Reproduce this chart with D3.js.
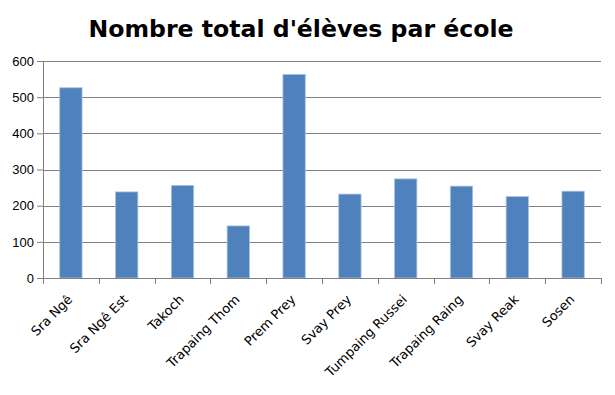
<!DOCTYPE html>
<html>
<head>
  <meta charset="utf-8">
  <title>Nombre total d'élèves par école</title>
  <style>
    body { margin: 0; background: #fff; }
    svg { display: block; font-family: "DejaVu Sans", sans-serif; }
    .grid line { stroke: #808080; stroke-width: 1; }
    .axis path, .axis line { stroke: #808080; }
    .axis text { fill: #000; font-size: 13px; }
  </style>
</head>
<body>
  <svg width="615" height="395"></svg>
  <script src="https://d3js.org/d3.v7.min.js"></script>
  <script>
    // schools and their total pupils
    var schools = ['Sra Ngê', 'Sra Ngê Est', 'Takoch', 'Trapaing Thom', 'Prem Prey',
      'Svay Prey', 'Tumpaing Russei', 'Trapaing Raing', 'Svay Reak', 'Sosen'];
    var pupils = [526, 238, 256, 144, 563, 232, 274, 254, 225, 240];
    var yTicks = [0, 100, 200, 300, 400, 500, 600];

    var svg = d3.select('svg');
    var margin = { top: 61, right: 14, bottom: 117, left: 43 };
    var width = 615 - margin.left - margin.right;
    var height = 395 - margin.top - margin.bottom;

    var x = d3.scaleBand().domain(schools).range([0, width]).paddingInner(0.6).paddingOuter(0.3);
    var xBand = d3.scaleBand().domain(schools).range([0, width]);
    var y = d3.scaleLinear().domain([0, 600]).range([height, 0]);

    svg.append('text')
      .attr('x', 301).attr('y', 36.5)
      .attr('text-anchor', 'middle')
      .style('font-size', '23.6px').style('font-weight', 'bold')
      .text("Nombre total d'élèves par école");

    var g = svg.append('g').attr('transform', 'translate(' + margin.left + ',' + margin.top + ')');

    // horizontal gridlines
    g.append('g').attr('class', 'grid')
      .selectAll('line').data(yTicks.slice(1)).enter().append('line')
      .attr('x1', 0).attr('x2', width)
      .attr('y1', function(d) { return Math.round(y(d)) + 0.5; })
      .attr('y2', function(d) { return Math.round(y(d)) + 0.5; });

    // bars
    g.selectAll('rect.bar').data(pupils).enter().append('rect')
      .attr('class', 'bar')
      .attr('x', function(d, i) { return x(schools[i]); })
      .attr('width', x.bandwidth())
      .attr('y', function(d) { return y(d); })
      .attr('height', function(d) { return height - y(d); })
      .attr('fill', '#4f81bd')
      .attr('stroke', '#a9c1e0')
      .attr('stroke-width', 0.8);

    // y axis
    var yAxis = g.append('g').attr('class', 'axis')
      .call(d3.axisLeft(y).tickValues(yTicks).tickSize(6).tickSizeOuter(0).tickPadding(3));
    yAxis.select('.domain').attr('d', 'M0.5,0V' + height);

    // x axis: ticks at band boundaries
    var xAxis = g.append('g').attr('class', 'axis')
      .attr('transform', 'translate(0,' + height + ')');
    xAxis.append('line').attr('x1', 0).attr('x2', width).attr('y1', 0.5).attr('y2', 0.5);
    xAxis.selectAll('line.tk').data(d3.range(schools.length + 1)).enter().append('line')
      .attr('class', 'tk')
      .attr('x1', function(i) { return Math.round(i * xBand.bandwidth()) + 0.5; })
      .attr('x2', function(i) { return Math.round(i * xBand.bandwidth()) + 0.5; })
      .attr('y1', 0).attr('y2', 6);
    xAxis.selectAll('text').data(schools).enter().append('text')
      .attr('text-anchor', 'end')
      .attr('transform', function(d) {
        return 'translate(' + (xBand(d) + xBand.bandwidth() / 2 - 1) + ',19) rotate(-45)';
      })
      .attr('dy', '0.35em')
      .text(function(d) { return d; });
  </script>
</body>
</html>
